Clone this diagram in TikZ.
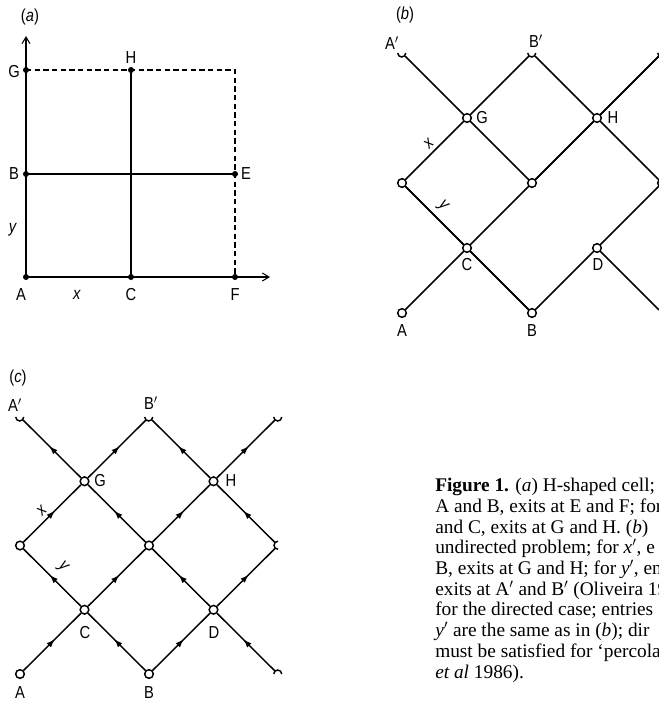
\documentclass[tikz,border=0pt]{standalone}
\usepackage{fontspec}
\setmainfont{Liberation Serif}
\newfontfamily\labfont[FakeStretch=0.85]{Liberation Sans}
\usetikzlibrary{arrows.meta,decorations.markings}
\begin{document}
\begin{tikzpicture}[x=0.75pt,y=-0.75pt,
  lab/.style={font=\labfont\fontsize{13}{13}\selectfont, inner sep=0pt},
  cap text/.style={font=\fontsize{14.5}{15.5}\selectfont, inner sep=0pt, anchor=base west},
  thickln/.style={line width=1.6pt},
  thinln/.style={line width=0.8pt},
  edgeln/.style={line width=1.1pt},
  dot/.style={circle,fill=black,inner sep=0pt,minimum size=4.5pt},
  site/.style={circle,draw=black,fill=white,line width=1.1pt,inner sep=0pt,minimum size=6.5pt},
  endpt/.style={circle,inner sep=0pt,minimum size=6pt},
  capline/.style={line width=1.1pt},
  dir/.style={edgeln,postaction={decorate},decoration={markings,mark=at position 0.55 with {\arrow{Latex[length=6.5pt,width=4.5pt]}}}},
  axarrow/.style={-{Straight Barb[length=5pt,width=6pt]}}
]
\useasboundingbox (0,0) rectangle (659,704);

% ---------------- panel (a) ----------------
\node[lab] (la) at (30,17) {(\textit{a})};
\node[dot] (aA) at (26,277) {};
\node[dot] (aC) at (131,277) {};
\node[dot] (aF) at (235,277) {};
\node[dot] (aB) at (26,174) {};
\node[dot] (aE) at (235,174) {};
\node[dot] (aG) at (26,70) {};
\node[dot] (aH) at (131,70) {};
\coordinate (aK) at (235,70);
\coordinate (aYtip) at (26,36);
\coordinate (aXtip) at (270,277);
\draw[thickln] (aA.center) -- (aG.center);
\draw[thickln] (aA.center) -- (aF.center);
\draw[thickln] (aB.center) -- (aE.center);
\draw[thickln] (aC.center) -- (aH.center);
\draw[thinln,axarrow] (aG.center) -- (aYtip);
\draw[thinln,axarrow] (aF.center) -- (aXtip);
\draw[thinln,dashed,dash pattern=on 4pt off 2.5pt] (aG.center) -- (aK) -- (aF.center);
\node[lab] at (14,72) {G};
\node[lab] at (14,174) {B};
\node[lab] at (21,295) {A};
\node[lab] at (77,295) {\textit{x}};
\node[lab] at (131,295) {C};
\node[lab] at (235,295) {F};
\node[lab] at (246,174) {E};
\node[lab] at (131,58) {H};
\node[lab] at (13,230) {\textit{y}};

% ---------------- panel (b) ----------------
\node[lab] (lb) at (405,15) {(\textit{b})};
\node[endpt] (bAp) at (402,53) {};
\node[endpt] (bBp) at (532,53) {};
\node[endpt] (bT) at (662,53) {};
\node[endpt] (bR0) at (662,313) {};
\draw[edgeln] (402,313) -- (467,248) -- (532,313) -- (597,248) -- (bR0);
\draw[edgeln] (402,183) -- (467,248) -- (662,53);
\draw[edgeln] (532,313) -- (402,183);
\draw[edgeln] (597,248) -- (662,183);
\draw[edgeln] (402,183) -- (467,118) -- (532,183) -- (597,118) -- (662,183);
\draw[edgeln] (bAp) -- (467,118) -- (bBp) -- (597,118) -- (bT);
\node[site] (bA) at (402,313) {};
\node[site] (bB) at (532,313) {};
\node[site] (bC) at (467,248) {};
\node[site] (bD) at (597,248) {};
\node[site] (bL) at (402,183) {};
\node[site] (bM) at (532,183) {};
\node[site] (bR) at (662,183) {};
\node[site] (bG) at (467,118) {};
\node[site] (bH) at (597,118) {};
\draw[capline] (bAp.180) arc[start angle=180,end angle=360,radius=3pt];
\draw[capline] (bBp.180) arc[start angle=180,end angle=360,radius=3pt];
\draw[capline] (bT.180) arc[start angle=180,end angle=360,radius=3pt];
\node[lab] at (392,43) {A$'$};
\node[lab] at (536,41) {B$'$};
\node[lab] at (402,331) {A};
\node[lab] at (532,331) {B};
\node[lab] at (467,265) {C};
\node[lab] at (598,265) {D};
\node[lab] at (482,118) {G};
\node[lab] at (613,118) {H};
\node[lab,rotate=45] at (429,144) {\textit{x}};
\node[lab,rotate=-45] at (443,206) {\textit{y}};

% ---------------- panel (c) ----------------
\node[lab] (lc) at (18,378) {(\textit{c})};
\node[site] (cA) at (20,674) {};
\node[site] (cB) at (149,674) {};
\node[endpt] (cR0) at (278,674) {};
\node[site] (cC) at (84.5,609.75) {};
\node[site] (cD) at (213.5,609.75) {};
\node[site] (cL) at (20,545.5) {};
\node[site] (cM) at (149,545.5) {};
\node[endpt] (cR) at (278,545.5) {};
\node[site] (cG) at (84.5,481.25) {};
\node[site] (cH) at (213.5,481.25) {};
\node[endpt] (cAp) at (20,417) {};
\node[endpt] (cBp) at (149,417) {};
\node[endpt] (cT) at (278,417) {};
\draw[dir] (cA) -- (cC);
\draw[dir] (cB) -- (cC);
\draw[dir] (cB) -- (cD);
\draw[dir] (cR0) -- (cD);
\draw[dir] (cC) -- (cL);
\draw[dir] (cC) -- (cM);
\draw[dir] (cD) -- (cM);
\draw[dir] (cD) -- (cR);
\draw[dir] (cL) -- (cG);
\draw[dir] (cM) -- (cG);
\draw[dir] (cM) -- (cH);
\draw[dir] (cR) -- (cH);
\draw[dir] (cG) -- (cAp);
\draw[dir] (cG) -- (cBp);
\draw[dir] (cH) -- (cBp);
\draw[dir] (cH) -- (cT);
\draw[capline] (cAp.180) arc[start angle=180,end angle=360,radius=3pt];
\draw[capline] (cBp.180) arc[start angle=180,end angle=360,radius=3pt];
\draw[capline] (cT.180) arc[start angle=180,end angle=360,radius=3pt];
\draw[capline] (cR.90) arc[start angle=90,end angle=270,radius=3pt];
\draw[capline] (cR0.180) arc[start angle=180,end angle=0,radius=3pt];
\node[lab] at (15,405) {A$'$};
\node[lab] at (151,403) {B$'$};
\node[lab] at (20,693) {A};
\node[lab] at (149,693) {B};
\node[lab] at (85,633) {C};
\node[lab] at (214,633) {D};
\node[lab] at (100,481) {G};
\node[lab] at (231,481) {H};
\node[lab,rotate=45] at (42,510) {\textit{x}};
\node[lab,rotate=-45] at (63,567) {\textit{y}};

% ---------------- caption ----------------
\node[cap text] (t1) at (435,491) {\textbf{Figure 1.} (\textit{a}) H-shaped cell;};
\node[cap text] (t2) at (435,512) {A and B, exits at E and F; for};
\node[cap text] (t3) at (435,533) {and C, exits at G and H. (\textit{b})};
\node[cap text] (t4) at (435,553) {undirected problem; for \textit{x}$'$, e};
\node[cap text] (t5) at (435,574) {B, exits at G and H; for \textit{y}$'$, en};
\node[cap text] (t6) at (435,595) {exits at A$'$ and B$'$ (Oliveira 19};
\node[cap text] (t7) at (435,615) {for the directed case; entries};
\node[cap text] (t8) at (435,636) {\textit{y}$'$ are the same as in (\textit{b}); dir};
\node[cap text] (t9) at (435,657) {must be satisfied for `percola};
\node[cap text] (t10) at (435,678) {\textit{et al} 1986).};
\end{tikzpicture}
\end{document}
